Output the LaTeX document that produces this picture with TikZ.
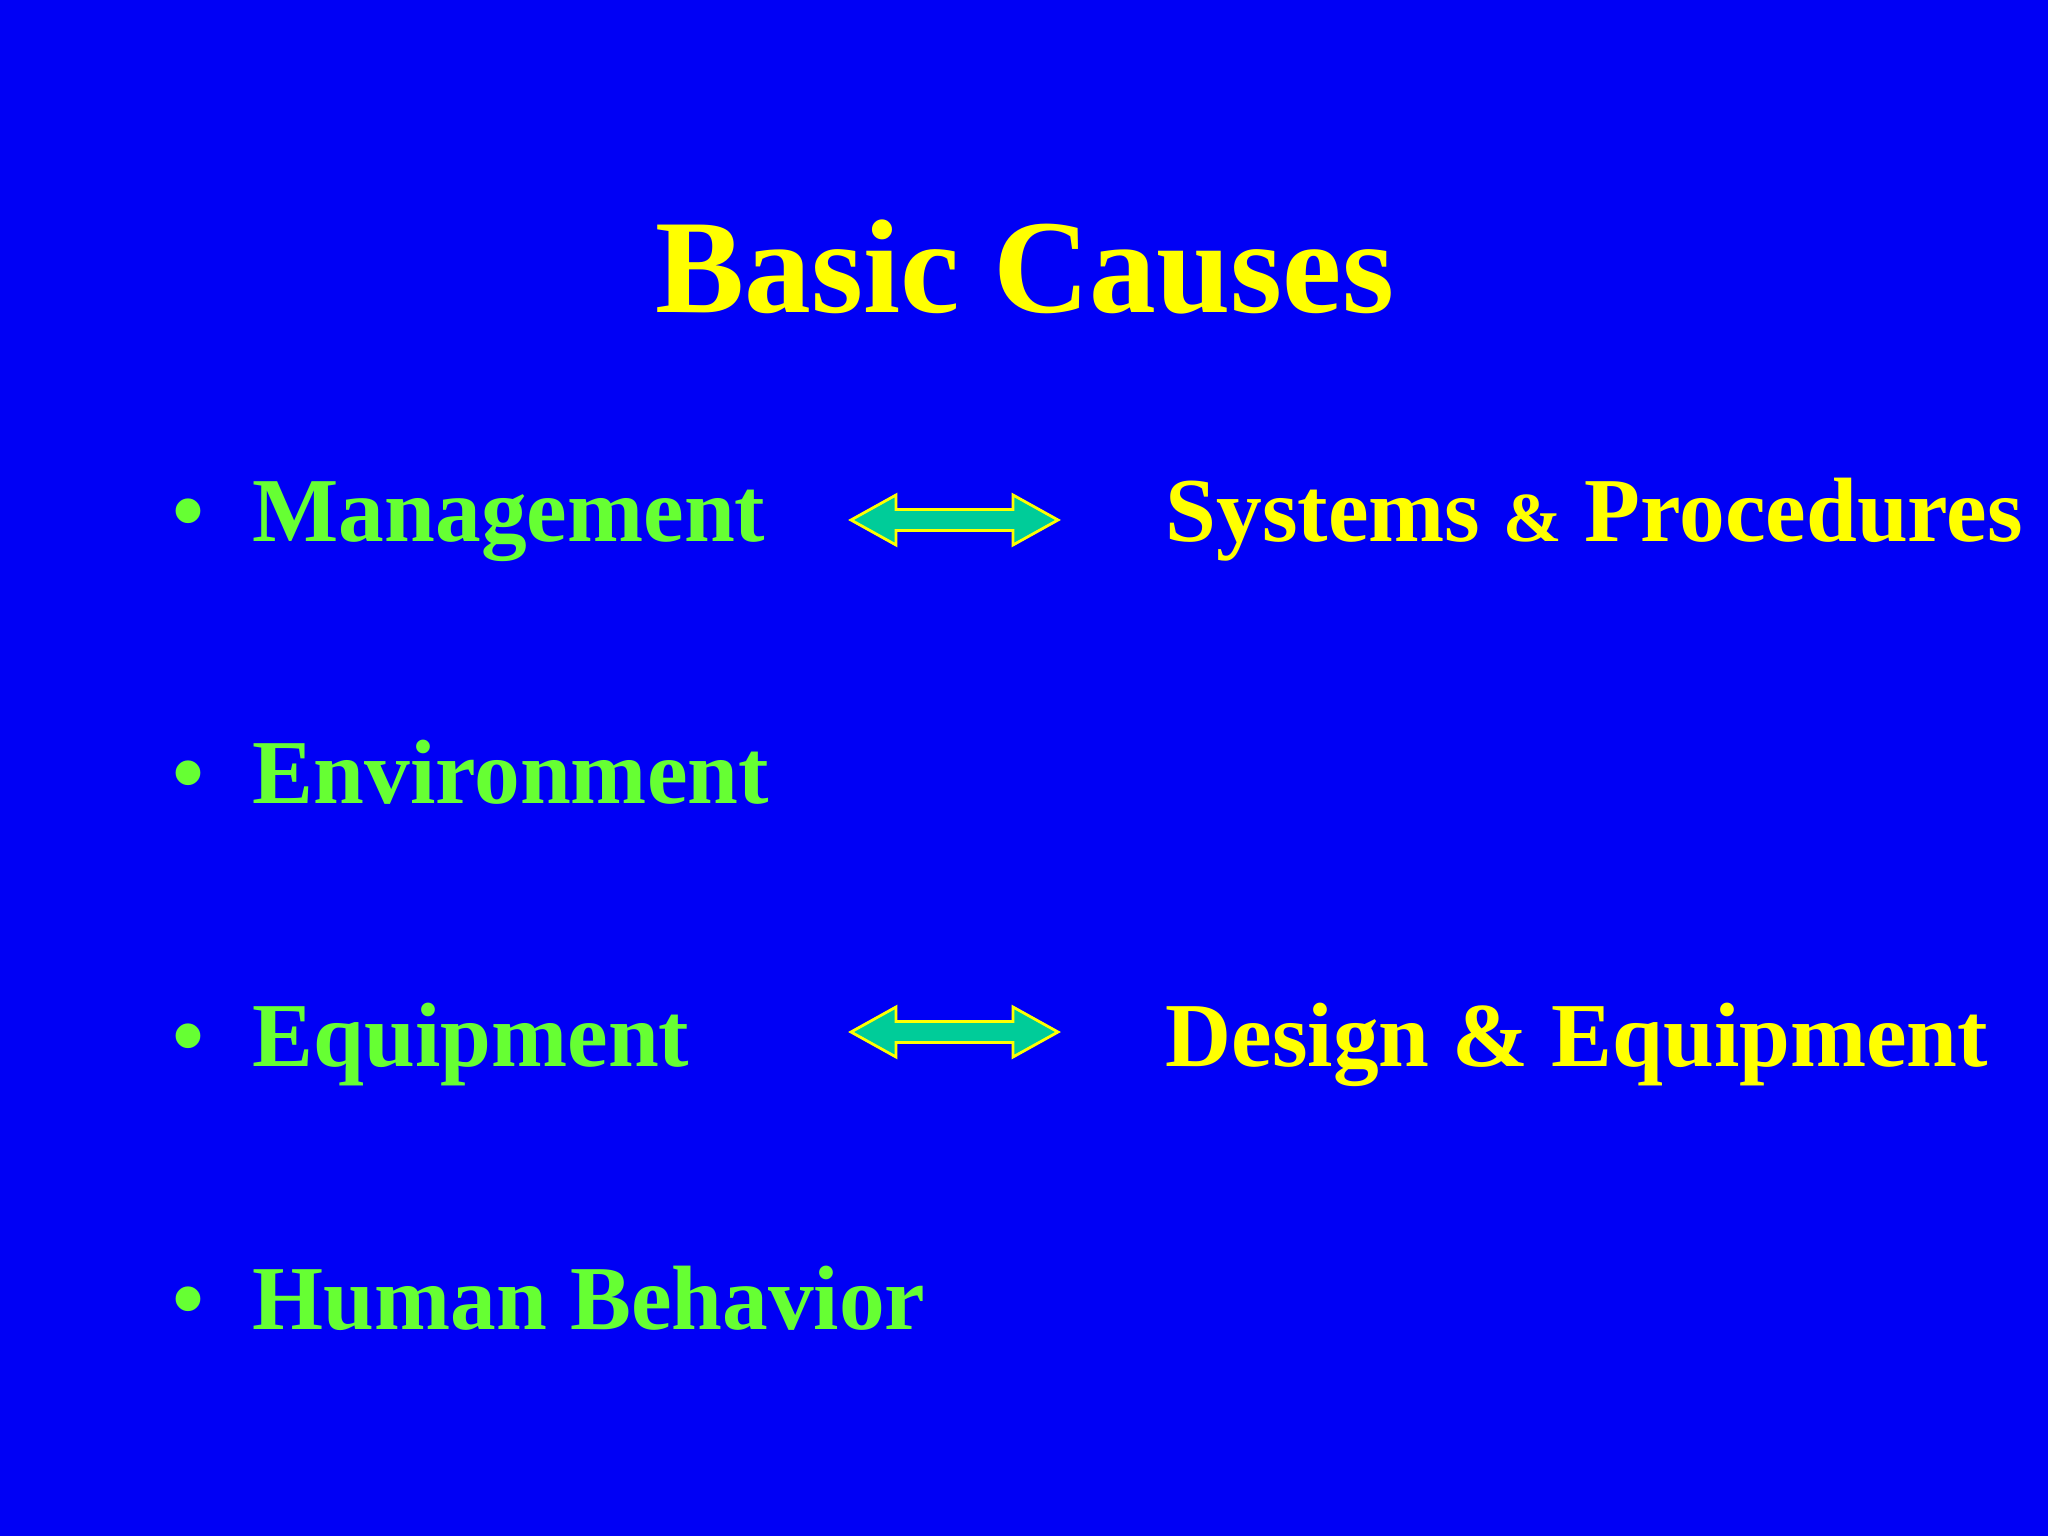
\documentclass[tikz,border=0pt]{standalone}
\usepackage{fontspec}
\setmainfont{Liberation Serif}
\definecolor{bg}{RGB}{0,0,245}
\definecolor{gtxt}{RGB}{102,255,51}
\definecolor{ytxt}{RGB}{255,255,0}
\definecolor{arr}{RGB}{0,204,153}
\tikzset{
  item/.style={anchor=base west,text=gtxt,font=\fontsize{26}{30}\selectfont\bfseries,inner sep=0pt},
  rtxt/.style={anchor=base west,text=ytxt,font=\fontsize{26}{30}\selectfont\bfseries,inner sep=0pt},
  dbl/.style={fill=arr,draw=ytxt,line width=0.8pt}
}
\newcommand{\dblarrow}[1]{%
  \draw[dbl] (8.51,#1) -- ++(0.45,0.25) -- ++(0,-0.145) -- (10.13,#1+0.105) -- ++(0,0.145) -- (10.58,#1) -- ++(-0.45,-0.25) -- ++(0,0.145) -- (8.96,#1-0.105) -- ++(0,-0.145) -- cycle;}
\begin{document}
\begin{tikzpicture}[x=1cm,y=1cm]
\fill[bg] (0,0) rectangle (20.48,-15.36);
\useasboundingbox (0,0) rectangle (20.48,-15.36);
\node[anchor=base,text=ytxt,font=\fontsize{38}{44}\selectfont\bfseries,inner sep=0pt] (title) at (10.25,-3.13) {Basic Causes};
\foreach \n/\y/\t in {m/5.42/Management, e/8.03/Environment, q/10.67/Equipment, h/13.29/Human Behavior}{
  \node[item] (b\n) at (1.72,-\y) {•};
  \node[item] (\n) at (2.52,-\y) {\t};
}
\node[rtxt] (sp) at (11.65,-5.42) {Systems {\fontsize{20}{24}\selectfont\&} Procedures};
\node[rtxt] (de) at (11.65,-10.67) {Design \& Equipment};
\dblarrow{-5.20}
\dblarrow{-10.32}
\end{tikzpicture}
\end{document}
